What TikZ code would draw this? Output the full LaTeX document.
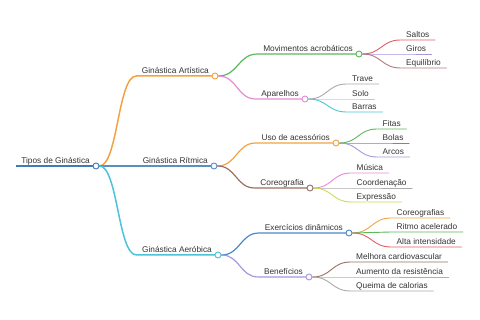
\documentclass[tikz,border=0pt]{standalone}
\usepackage{fontspec}
\setmainfont{Liberation Sans}
\usetikzlibrary{calc, backgrounds}

\definecolor{textgray}{HTML}{333333}
\definecolor{rootblue}{HTML}{3E7CB8}
\definecolor{ritblue}{HTML}{5A8FC4}
\definecolor{mmorange}{HTML}{F5A142}
\definecolor{mmcyan}{HTML}{4CC3D9}
\definecolor{mmgreen}{HTML}{5CB85C}
\definecolor{mmpink}{HTML}{E68AD6}
\definecolor{mmred}{HTML}{DE5E66}
\definecolor{mmpurple}{HTML}{A897DB}
\definecolor{mmmauve}{HTML}{B5777E}
\definecolor{mmgray}{HTML}{AAAAAA}
\definecolor{mmlime}{HTML}{C9DB5A}
\definecolor{mmbrown}{HTML}{9C6F64}
\definecolor{mmblue}{HTML}{4E87C9}

\tikzset{
  topic/.style = {
    inner xsep=5.5pt, inner ysep=2.5pt, text height=6pt, text depth=0pt,
    font=\fontsize{8.3}{10}\selectfont, text=textgray
  },
  hub/.style  = { topic, anchor=south east },
  leaf/.style = { topic, anchor=south west },
  knot/.style = {
    circle, draw=#1, fill=white, line width=0.9pt,
    minimum size=6pt, inner sep=0pt
  },
  link/.style = {
    draw=#1, line cap=round,
    to path={let \p1=(\tikztostart), \p2=(\tikztotarget) in
      .. controls ({(\x1+\x2)/2},\y1) and ({(\x1+\x2)/2},\y2) .. (\tikztotarget)}
  },
  branch/.style = { link=#1, line width=1.5pt },
  bough/.style  = { link=#1, line width=1.2pt },
  twig/.style   = { link=#1, line width=0.9pt }
}

\begin{document}
\begin{tikzpicture}[x=1pt, y=-1pt]
    \useasboundingbox (0,0) rectangle (480,320);

    % ------------------------------------------------------------- Root
    \node [hub]             (root)    at ( 95.5,166) {Tipos de Ginástica};
    \node [knot=rootblue]   (rootdot) at ( 96,166) {};

    % ---------------------------------------------------------- Level 1
    \node [hub]             (art)     at (214.5, 76) {Ginástica Artística};
    \node [knot=mmorange]   (artdot)  at (215, 76) {};
    \node [hub]             (rit)     at (213.5,166) {Ginástica Rítmica};
    \node [knot=ritblue]    (ritdot)  at (214,166) {};
    \node [hub]             (aer)     at (217.5,255) {Ginástica Aeróbica};
    \node [knot=mmcyan]     (aerdot)  at (218,255) {};

    % ---------------------------------------------------------- Level 2
    \node [hub]             (mov)     at (358.5, 54) {Movimentos acrobáticos};
    \node [knot=mmgreen]    (movdot)  at (359, 54) {};
    \node [hub]             (apa)     at (304.5, 99) {Aparelhos};
    \node [knot=mmpink]     (apadot)  at (305, 99) {};
    \node [hub]             (uso)     at (335.5,143) {Uso de acessórios};
    \node [knot=mmorange]   (usodot)  at (336,143) {};
    \node [hub]             (cor)     at (309.5,188) {Coreografia};
    \node [knot=mmbrown]    (cordot)  at (310,188) {};
    \node [hub]             (exe)     at (348.5,233) {Exercícios dinâmicos};
    \node [knot=mmblue]     (exedot)  at (349,233) {};
    \node [hub]             (ben)     at (308.5,277) {Benefícios};
    \node [knot=mmpurple]   (bendot)  at (309,277) {};

    % ------------------------------------------------------------ Leaves
    \node [leaf] (saltos)  at (400.5, 40) {Saltos};
    \node [leaf] (giros)   at (400.5, 54) {Giros};
    \node [leaf] (equil)   at (400.5, 68) {Equilíbrio};

    \node [leaf] (trave)   at (346.5, 84) {Trave};
    \node [leaf] (solo)    at (346.5, 99) {Solo};
    \node [leaf] (barras)  at (346.5,112) {Barras};

    \node [leaf] (fitas)   at (377,129) {Fitas};
    \node [leaf] (bolas)   at (377,143) {Bolas};
    \node [leaf] (arcos)   at (377,157) {Arcos};

    \node [leaf] (musica)  at (351,173) {Música};
    \node [leaf] (coord)   at (351,188) {Coordenação};
    \node [leaf] (expr)    at (351,202) {Expressão};

    \node [leaf] (coreos)  at (391,218) {Coreografias};
    \node [leaf] (ritmo)   at (391,232) {Ritmo acelerado};
    \node [leaf] (alta)    at (391,247) {Alta intensidade};

    \node [leaf] (melhora) at (350.5,262) {Melhora cardiovascular};
    \node [leaf] (aumento) at (350.5,277) {Aumento da resistência};
    \node [leaf] (queima)  at (350.5,291) {Queima de calorias};

    % ----------------------------------------- Connectors (behind the knots)
    \begin{scope}[on background layer]

      % -------- root and level 1
      \draw [draw=rootblue, line width=2pt] (root.south west) -- (rootdot.center);
      \draw [branch=mmorange] (rootdot.east) to (art.south west) -- (artdot.center);
      \draw [branch=ritblue]  (rootdot.east) to (rit.south west) -- (ritdot.center);
      \draw [branch=mmcyan]   (rootdot.east) to (aer.south west) -- (aerdot.center);

      % -------- level 2
      \draw [bough=mmgreen]  (artdot.east) to (mov.south west) -- (movdot.center);
      \draw [bough=mmpink]   (artdot.east) to (apa.south west) -- (apadot.center);
      \draw [bough=mmorange] (ritdot.east) to (uso.south west) -- (usodot.center);
      \draw [bough=mmbrown]  (ritdot.east) to (cor.south west) -- (cordot.center);
      \draw [bough=mmblue]   (aerdot.east) to (exe.south west) -- (exedot.center);
      \draw [bough=mmpurple] (aerdot.east) to (ben.south west) -- (bendot.center);

      % -------- movimentos acrobaticos
      \draw [twig=mmred]    (movdot.east) to (saltos.south west) -- (saltos.south east);
      \draw [twig=mmpurple] (movdot.east) to (giros.south west)  -- (giros.south east);
      \draw [twig=mmmauve]  (movdot.east) to (equil.south west)  -- (equil.south east);

      % -------- aparelhos
      \draw [twig=mmgray]  (apadot.east) to (trave.south west)  -- (trave.south east);
      \draw [twig=mmlime]  (apadot.east) to (solo.south west)   -- (solo.south east);
      \draw [twig=mmcyan]  (apadot.east) to (barras.south west) -- (barras.south east);

      % -------- uso de acessorios
      \draw [twig=mmgreen]  (usodot.east) to (fitas.south west) -- (fitas.south east);
      \draw [twig=mmred]    (usodot.east) to (bolas.south west) -- (bolas.south east);
      \draw [twig=mmpurple] (usodot.east) to (arcos.south west) -- (arcos.south east);

      % -------- coreografia
      \draw [twig=mmpink] (cordot.east) to (musica.south west) -- (musica.south east);
      \draw [twig=mmgray] (cordot.east) to (coord.south west)  -- (coord.south east);
      \draw [twig=mmlime] (cordot.east) to (expr.south west)   -- (expr.south east);

      % -------- exercicios dinamicos
      \draw [twig=mmorange] (exedot.east) to (coreos.south west) -- (coreos.south east);
      \draw [twig=mmgreen]  (exedot.east) to (ritmo.south west)  -- (ritmo.south east);
      \draw [twig=mmred]    (exedot.east) to (alta.south west)   -- (alta.south east);

      % -------- beneficios
      \draw [twig=mmbrown] (bendot.east) to (melhora.south west) -- (melhora.south east);
      \draw [twig=mmpink]  (bendot.east) to (aumento.south west) -- (aumento.south east);
      \draw [twig=mmgray]  (bendot.east) to (queima.south west)  -- (queima.south east);

    \end{scope}

\end{tikzpicture}
\end{document}
